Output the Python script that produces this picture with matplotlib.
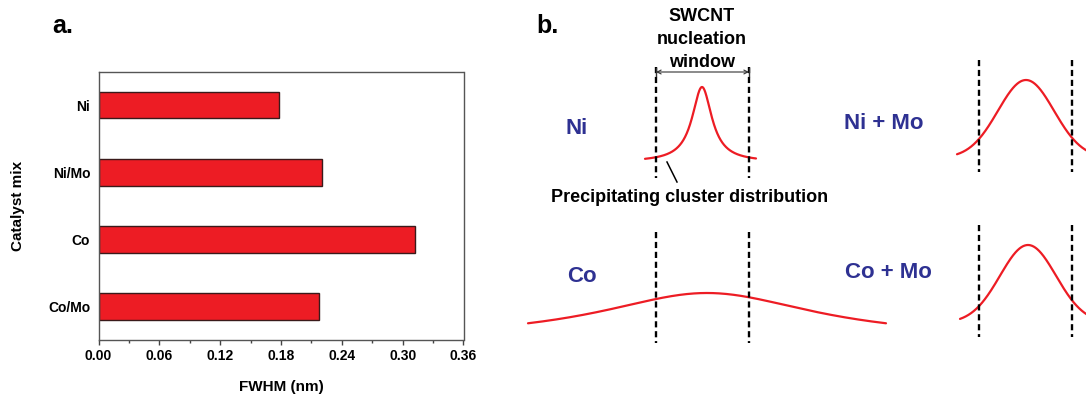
import numpy as np
import matplotlib
matplotlib.use("Agg")
import matplotlib.pyplot as plt
from matplotlib.ticker import MultipleLocator, FormatStrFormatter

plt.rcParams['font.family'] = ['Liberation Sans', 'DejaVu Sans']
plt.rcParams['font.weight'] = 'bold'

# ---------------- data ----------------
categories = ["Ni", "Ni/Mo", "Co", "Co/Mo"]
fwhm_nm = [0.178, 0.220, 0.312, 0.217]
x_ticks = [0.00, 0.06, 0.12, 0.18, 0.24, 0.30, 0.36]

# schematic panel b: label, peak centre, peak width, peak height, baseline, shape
panel_labels = ["Ni", "Ni + Mo", "Co", "Co + Mo"]
peak_centres = [702, 1026, 707, 1028]
peak_widths = [12, 28, 133, 28]
peak_heights = [75, 78, 47, 78]
baselines = [162, 158, 340, 323]
peak_shapes = ["lorentz", "gauss", "lorentz", "gauss"]
curve_ranges = [(645, 756), (957, 1095), (528, 886), (960, 1095)]
window_edges = [(656, 749), (979, 1072), (656, 749), (979, 1072)]
window_spans = [(67, 178), (60, 172), (232, 343), (225, 337)]
label_pos = [(577, 128), (884, 123), (582, 277), (888, 273)]

RED = "#ED1C24"
BLUE = "#2E3192"

W, H = 1086, 394
fig = plt.figure(figsize=(W / 100, H / 100), dpi=100)

# ---------------- panel a ----------------
ax = fig.add_axes([98.5 / W, (H - 340) / H, 365 / W, 268.5 / H])
ypos = np.arange(len(categories))
ax.barh(ypos, fwhm_nm, height=0.4, color=RED, edgecolor="#3a1a1a", linewidth=1.0)
ax.set_ylim(3.5, -0.5)
ax.set_xlim(0, 0.36)
ax.set_yticks(ypos)
ax.set_yticklabels(categories, fontsize=10, fontweight='bold')
ax.set_xticks(x_ticks)
ax.xaxis.set_major_formatter(FormatStrFormatter('%.2f'))
ax.xaxis.set_minor_locator(MultipleLocator(0.03))
ax.tick_params(axis='x', which='major', direction='out', length=3.5, width=1,
               labelsize=10, pad=3, color="#444444")
ax.tick_params(axis='x', which='minor', direction='out', length=2, width=1, color="#444444")
ax.tick_params(axis='y', length=0, pad=6)
for lab in ax.get_xticklabels():
    lab.set_fontweight('bold')
for sp in ax.spines.values():
    sp.set_color("#555555")
    sp.set_linewidth(1.0)
ax.set_xlabel("FWHM (nm)", fontsize=11, fontweight='bold', va='center')
ax.set_ylabel("Catalyst mix", fontsize=11, fontweight='bold')
ax.xaxis.set_label_coords(0.5, -(387 - 340) / 268.5)
ax.yaxis.set_label_coords(-0.20, 0.5)

fig.text(63 / W, 1 - 26 / H, "a.", fontsize=18, fontweight='bold', ha='center', va='center')

# ---------------- panel b ----------------
bx = fig.add_axes([500 / W, 0, (W - 500) / W, 1])
bx.set_xlim(500, W)
bx.set_ylim(H, 0)
bx.axis('off')

for i in range(len(panel_labels)):
    x0, x1 = curve_ranges[i]
    xs = np.linspace(x0, x1, 400)
    d = xs - peak_centres[i]
    if peak_shapes[i] == "gauss":
        prof = np.exp(-d ** 2 / (2 * peak_widths[i] ** 2))
    else:
        prof = 1.0 / (1.0 + (d / peak_widths[i]) ** 2)
    ys = baselines[i] - peak_heights[i] * prof
    bx.plot(xs, ys, color=RED, lw=1.6, solid_capstyle='round', clip_on=True)
    for xe in window_edges[i]:
        bx.plot([xe, xe], list(window_spans[i]), color='black', lw=1.7,
                dashes=(2.6, 1.6))
    bx.text(label_pos[i][0], label_pos[i][1], panel_labels[i], color=BLUE,
            fontsize=16, fontweight='bold', ha='center', va='center')

# nucleation window annotation
bx.text(702, 16, "SWCNT", fontsize=13, fontweight='bold', ha='center', va='center')
bx.text(702, 39, "nucleation", fontsize=13, fontweight='bold', ha='center', va='center')
bx.text(702, 62, "window", fontsize=13, fontweight='bold', ha='center', va='center')
bx.annotate("", xy=(656, 72), xytext=(749, 72),
            arrowprops=dict(arrowstyle='<->', color='#333333', lw=0.8,
                            shrinkA=0, shrinkB=0, mutation_scale=7))
for xe in window_edges[0]:
    bx.plot([xe, xe], [68, 76], color='#333333', lw=1.0)

# precipitating cluster distribution
bx.plot([667, 677], [162, 182], color='black', lw=1.1)
bx.text(690, 197, "Precipitating cluster distribution", fontsize=13,
        fontweight='bold', ha='center', va='center')

fig.text(547 / W, 1 - 26 / H, "b.", fontsize=18, fontweight='bold', ha='center', va='center')

fig.savefig("out.png", dpi=100)
